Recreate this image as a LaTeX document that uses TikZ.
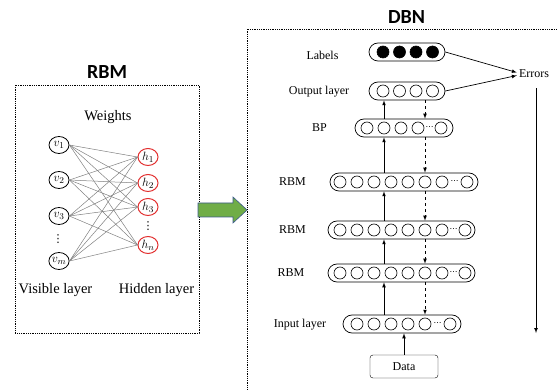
\documentclass[tikz,border=0pt]{standalone}
\usepackage{fontspec}
\setmainfont{Liberation Serif}
\newfontfamily\labelfont{Liberation Serif}
\newfontfamily\titlefont{Carlito}
\newfontfamily\dotfont{DejaVu Sans}
\usetikzlibrary{shapes.geometric}
\definecolor{arrowgreen}{RGB}{112,173,71}
\definecolor{arrowedge}{RGB}{60,90,140}
\definecolor{hidred}{RGB}{226,48,48}
\tikzset{
  title/.style    = {font=\titlefont\bfseries\fontsize{20}{22}\selectfont},
  rbmtext/.style  = {font=\labelfont\fontsize{14.5}{16}\selectfont, inner sep=1pt},
  dbntext/.style  = {font=\labelfont\fontsize{12}{14}\selectfont, inner sep=2pt},
  vgap/.style     = {font=\dotfont\fontsize{11}{11}\selectfont, inner sep=0pt},
  frame/.style    = {densely dotted, line width=0.8pt},
  visnode/.style  = {ellipse, draw, line width=0.8pt, minimum width=20pt,
                     minimum height=17pt, inner sep=0pt,
                     font=\fontsize{13}{14}\selectfont},
  hidnode/.style  = {visnode, draw=hidred, line width=1pt},
  weight/.style   = {gray, line width=0.5pt},
  layer/.style    = {shape=rectangle, rounded corners=9pt, draw,
                     minimum height=18pt, inner sep=0pt, line width=0.7pt},
  unit/.style     = {circle, draw, minimum size=12pt, inner sep=0pt,
                     line width=0.6pt},
  target/.style   = {unit, fill=black},
  gap/.style      = {font=\dotfont\fontsize{8}{8}\selectfont, inner sep=0pt},
  flow/.style     = {draw, -latex, line width=0.7pt},
  back/.style     = {flow, dashed},
  bigarrow/.style = {fill=arrowgreen, draw=arrowedge, line width=0.6pt}
}
\begin{document}
\begin{tikzpicture}
  [
    x = 1pt,
    y = -1pt
  ]
  \useasboundingbox (0,0) rectangle (557,390);

  % RBM side
  \draw[frame] (15,85) rectangle (199,333);
  \node[title] (rbmtitle) at (107,72.5) {RBM};
  \node[rbmtext] (weights) at (108,117) {Weights};
  \node[visnode] (v1) at (59,145) {$v_1$};
  \node[visnode] (v2) at (59,180) {$v_2$};
  \node[visnode] (v3) at (59,216) {$v_3$};
  \node[vgap] (vdots) at (58,239) {⋮};
  \node[visnode] (vm) at (59,261) {$v_m$};
  \node[hidnode] (h1) at (148,157) {$h_1$};
  \node[hidnode] (h2) at (148,183) {$h_2$};
  \node[hidnode] (h3) at (148,207) {$h_3$};
  \node[vgap] (hdots) at (148,226) {⋮};
  \node[hidnode] (hn) at (148,245) {$h_n$};
  \foreach \a in {1,2,3,m}
    \foreach \b in {1,2,3,n}
      \draw[weight] (v\a.east) -- (h\b.west);
  \node[rbmtext, anchor=base] (vislabel) at (55.5,293) {Visible layer};
  \node[rbmtext, anchor=base] (hidlabel) at (156.5,293) {Hidden layer};

  \filldraw[bigarrow] (198,203) -- (233,203) -- (233,197) -- (247,210)
    -- (233,223) -- (233,217) -- (198,217) -- cycle;

  % DBN side
  \draw[frame] (247,395) -- (247,29) -- (565,29);
  \node[title] (dbntitle) at (406.5,17.5) {DBN};

  \node[layer, minimum width=76pt] (labels) at (407,52) {};
  \node[layer, minimum width=76pt] (output) at (407,91) {};
  \node[layer, minimum width=98pt] (bp) at (404,128) {};
  \node[layer, minimum width=148pt] (rbma) at (404,182) {};
  \node[layer, minimum width=147pt] (rbmb) at (401.5,230) {};
  \node[layer, minimum width=147pt] (rbmc) at (401.5,273) {};
  \node[layer, minimum width=118pt] (input) at (402,324) {};
  \node[draw, rounded corners=3pt, minimum width=68pt, minimum height=23pt,
        dbntext] (data) at (404,366.5) {Data};

  \foreach \i/\x in {1/383,2/399.5,3/416,4/432.5} {
    \node[target] (labels-\i) at (\x,52) {};
    \node[unit] (output-\i) at (\x,91) {};
  }
  \foreach \lay/\y/\first/\n/\last in
      {bp/128/367/4/441, rbma/182/340/7/467, rbmb/230/340/7/465,
       rbmc/273/340/7/465, input/324/357/5/450} {
    \foreach \i in {1,...,\n}
      \node[unit] (\lay-\i) at ({\first+17*(\i-1)},\y) {};
    \node[unit] (\lay-last) at (\last,\y) {};
    \node[gap] (\lay-dots) at ({(\first+17*(\n-1)+\last)/2},\y) {⋯};
  }

  \node[dbntext] (labelstext) at (322.5,55) {Labels};
  \node[dbntext] (outputtext) at (319,92) {Output layer};
  \node[dbntext] (bptext) at (319.5,128) {BP};
  \node[dbntext] (rbmatext) at (292.5,182) {RBM};
  \node[dbntext] (rbmbtext) at (292.5,230) {RBM};
  \node[dbntext] (rbmctext) at (291,273) {RBM};
  \node[dbntext] (inputtext) at (300,325) {Input layer};
  \node[dbntext] (errors) at (534,74) {Errors};

  \coordinate (up) at (384,0);
  \coordinate (down) at (425,0);
  \coordinate (errend) at (536,333);
  \foreach \lo/\hi in {input/rbmc, rbmc/rbmb, rbmb/rbma, rbma/bp, bp/output}
    \draw[flow] (\lo.north -| up) -- (\hi.south -| up);
  \foreach \hi/\lo in {output/bp, bp/rbma, rbma/rbmb, rbmb/rbmc, rbmc/input}
    \draw[back] (\hi.south -| down) -- (\lo.north -| down);
  \draw[flow] (data.north) -- (data.north |- input.south);
  \draw[flow] (labels.east) -- ([yshift=1.5pt]errors.west);
  \draw[flow] (output.east) -- ([yshift=-1.5pt]errors.west);
  \draw[flow] ([yshift=-8pt]errors.south -| errend) -- (errend);
\end{tikzpicture}
\end{document}
